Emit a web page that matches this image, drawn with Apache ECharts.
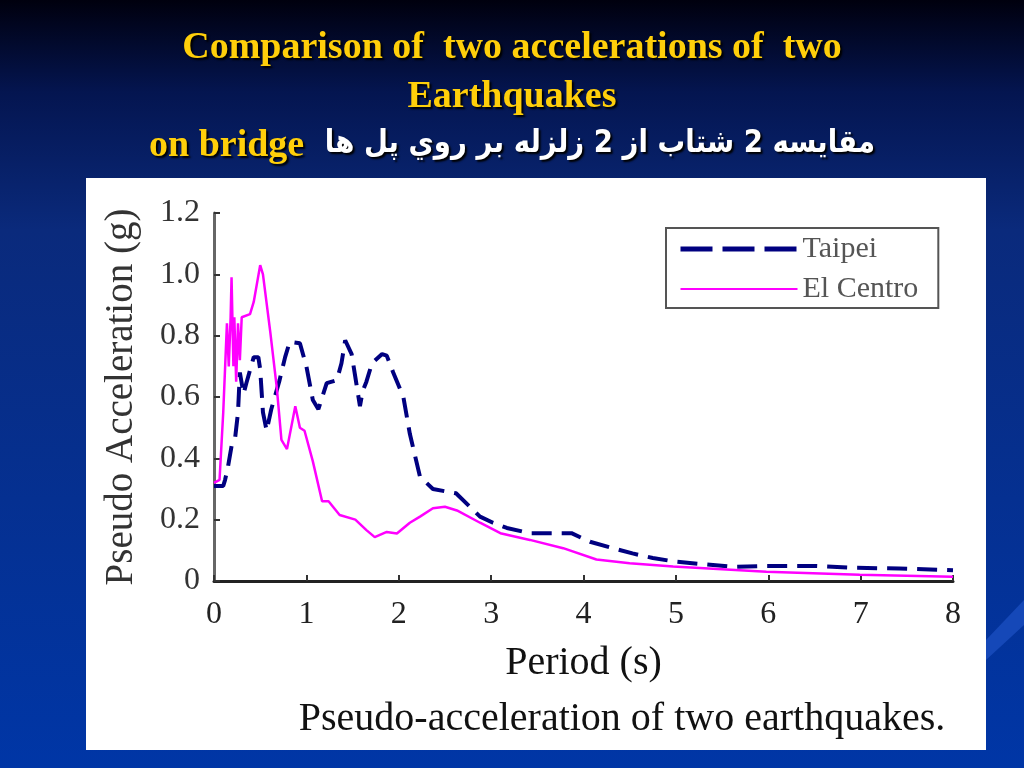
<!DOCTYPE html>
<html>
<head>
<meta charset="utf-8">
<script src="https://cdn.jsdelivr.net/npm/echarts@6/dist/echarts.min.js"></script>
<style>html,body{margin:0;padding:0;background:#001a60;}#c{width:1024px;height:768px;}</style>
</head>
<body>
<div id="c"></div>
<script>
// ---- data ----
const elCentroX = [0, 0.06, 0.1, 0.14, 0.16, 0.18, 0.19, 0.21, 0.22, 0.24, 0.26, 0.28, 0.30, 0.32, 0.39, 0.43, 0.50, 0.53, 0.61, 0.68, 0.73, 0.79, 0.88, 0.93, 0.98, 1.07, 1.17, 1.24, 1.36, 1.53, 1.65, 1.74, 1.87, 1.98, 2.12, 2.23, 2.37, 2.50, 2.63, 2.88, 3.10, 3.42, 3.78, 4.14, 4.50, 4.97, 5.98, 6.99, 8.0];
const elCentroY = [0.32, 0.33, 0.55, 0.84, 0.70, 0.86, 0.99, 0.70, 0.86, 0.65, 0.84, 0.72, 0.86, 0.86, 0.87, 0.91, 1.03, 1.00, 0.81, 0.63, 0.46, 0.43, 0.57, 0.50, 0.49, 0.39, 0.26, 0.26, 0.215, 0.20, 0.166, 0.143, 0.16, 0.155, 0.19, 0.21, 0.237, 0.242, 0.23, 0.19, 0.156, 0.134, 0.107, 0.07, 0.058, 0.047, 0.03, 0.02, 0.014];
const taipeiX = [0, 0.1, 0.12, 0.15, 0.19, 0.23, 0.26, 0.28, 0.32, 0.35, 0.43, 0.48, 0.50, 0.53, 0.57, 0.62, 0.71, 0.77, 0.82, 0.93, 1.00, 1.07, 1.13, 1.22, 1.33, 1.38, 1.42, 1.49, 1.53, 1.58, 1.61, 1.65, 1.71, 1.82, 1.87, 1.94, 2.05, 2.12, 2.23, 2.37, 2.62, 2.88, 3.02, 3.17, 3.42, 3.87, 4.07, 4.32, 4.53, 4.75, 5.0, 5.62, 5.98, 6.52, 6.92, 7.42, 8.0];
const taipeiY = [0.31, 0.31, 0.33, 0.37, 0.44, 0.47, 0.55, 0.68, 0.61, 0.645, 0.73, 0.73, 0.69, 0.55, 0.49, 0.56, 0.655, 0.73, 0.78, 0.775, 0.70, 0.59, 0.56, 0.645, 0.655, 0.71, 0.785, 0.74, 0.665, 0.57, 0.62, 0.65, 0.71, 0.74, 0.735, 0.68, 0.60, 0.48, 0.34, 0.30, 0.286, 0.21, 0.19, 0.173, 0.156, 0.156, 0.128, 0.107, 0.09, 0.075, 0.063, 0.046, 0.049, 0.049, 0.043, 0.041, 0.035];
const seriesNames = ['Taipei', 'El Centro'];
const xTicks = [0, 1, 2, 3, 4, 5, 6, 7, 8];
const yTicks = [0, 0.2, 0.4, 0.6, 0.8, 1.0, 1.2];
const titleLine1 = 'Comparison of  two accelerations of  two';
const titleLine2 = 'Earthquakes';
const titleLine3En = 'on bridge';
const titleLine3Fa = 'مقايسه 2 شتاب از 2 زلزله بر روي پل ها';
const xName = 'Period (s)';
const yName = 'Pseudo Acceleration (g)';
const caption = 'Pseudo-acceleration of two earthquakes.';

const pair = (xs, ys) => xs.map((x, i) => [x, ys[i]]);
const serif = '"Liberation Serif", "DejaVu Serif", serif';
const shadow = {textShadowColor: '#000', textShadowBlur: 2, textShadowOffsetX: 2, textShadowOffsetY: 2};

const chart = echarts.init(document.getElementById('c'), null, {renderer: 'canvas'});
chart.setOption({
  backgroundColor: {
    type: 'linear', x: 0, y: 0, x2: 0, y2: 1,
    colorStops: [
      {offset: 0, color: '#00000e'},
      {offset: 0.12, color: '#041550'},
      {offset: 0.3, color: '#0a2a7c'},
      {offset: 1, color: '#0036a6'}
    ]
  },
  animation: false,
  graphic: [
    {type: 'polygon', silent: true, z: 0, shape: {points: [[986, 640], [1024, 600], [1024, 625], [986, 660]]}, style: {fill: '#1548b8'}},
    {type: 'rect', z: 0, shape: {x: 86, y: 178, width: 900, height: 572}, style: {fill: '#ffffff'}},
    {type: 'text', z: 5, x: 512, y: 48, style: Object.assign({text: titleLine1, font: 'bold 38px ' + serif, fill: '#ffcf0a', align: 'center', verticalAlign: 'middle'}, shadow)},
    {type: 'text', z: 5, x: 512, y: 97, style: Object.assign({text: titleLine2, font: 'bold 38px ' + serif, fill: '#ffcf0a', align: 'center', verticalAlign: 'middle'}, shadow)},
    {type: 'text', z: 5, x: 149, y: 146, style: Object.assign({text: titleLine3En, font: 'bold 38px ' + serif, fill: '#ffcf0a', align: 'left', verticalAlign: 'middle'}, shadow)},
    {type: 'text', z: 5, x: 875, y: 144, scaleX: 0.92, scaleY: 1.05, style: Object.assign({text: titleLine3Fa, font: 'bold 30px "DejaVu Sans", sans-serif', fill: '#ffffff', align: 'right', verticalAlign: 'middle'}, shadow)},
    {type: 'text', z: 5, x: 622, y: 719, style: {text: caption, font: '40px ' + serif, fill: '#111111', align: 'center', verticalAlign: 'middle'}}
  ],
  grid: {left: 214, right: 71, top: 213, bottom: 187, show: true, borderColor: '#666666', borderWidth: 3, backgroundColor: 'transparent'},
  legend: {
    left: 666, top: 228, orient: 'vertical',
    backgroundColor: '#ffffff', borderColor: '#555555', borderWidth: 2,
    padding: [6, 20, 4, 12], itemGap: 10, itemWidth: 117, itemHeight: 14,
    textStyle: {fontFamily: serif, fontSize: 30, color: '#555555'},
    itemStyle: {opacity: 0},
    data: [
      {name: seriesNames[0], lineStyle: {type: [32, 10], width: 5}},
      {name: seriesNames[1]}
    ]
  },
  xAxis: {
    type: 'value', min: 0, max: 8, interval: 1,
    name: xName, nameLocation: 'middle', nameGap: 62,
    nameTextStyle: {fontFamily: serif, fontSize: 40, color: '#111111'},
    axisLine: {show: true, lineStyle: {color: '#222222', width: 3}},
    axisTick: {show: true, inside: true, length: 6, lineStyle: {color: '#333333', width: 2}},
    axisLabel: {fontFamily: serif, fontSize: 32, color: '#222222', margin: 18,
      formatter: v => xTicks.includes(v) ? String(v) : ''},
    splitLine: {show: false}
  },
  yAxis: {
    type: 'value', min: 0, max: 1.2, interval: 0.2,
    name: yName, nameLocation: 'middle', nameGap: 73, nameRotate: 90,
    nameTextStyle: {fontFamily: serif, fontSize: 39, color: '#333333'},
    axisLine: {show: true, lineStyle: {color: '#666666', width: 3}},
    axisTick: {show: true, inside: true, length: 6, lineStyle: {color: '#333333', width: 2}},
    axisLabel: {fontFamily: serif, fontSize: 32, color: '#333333', margin: 14,
      formatter: v => { const t = yTicks.find(k => Math.abs(k - v) < 1e-6); return t === undefined ? '' : (t === 0 ? '0' : t.toFixed(1)); }},
    splitLine: {show: false}
  },
  series: [
    {
      name: seriesNames[0], type: 'line', data: pair(taipeiX, taipeiY),
      symbol: 'none', showSymbol: false, z: 3,
      lineStyle: {color: '#000080', width: 4, type: [20, 10]},
      itemStyle: {color: '#000080'}
    },
    {
      name: seriesNames[1], type: 'line', data: pair(elCentroX, elCentroY),
      symbol: 'none', showSymbol: false, z: 4,
      lineStyle: {color: '#ff00ff', width: 2.5},
      itemStyle: {color: '#ff00ff'}
    }
  ]
});
</script>
</body>
</html>
